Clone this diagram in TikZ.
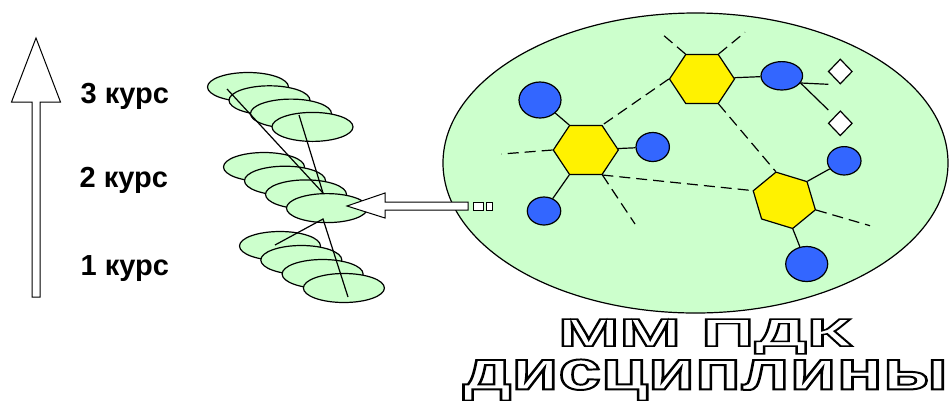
\documentclass[tikz,border=0pt]{standalone}
\usepackage{fontspec}
\setmainfont{Liberation Sans}
\usepackage{graphicx}
\usetikzlibrary{shapes.geometric}

\definecolor{mintfill}{HTML}{CCFFCC}
\definecolor{atomblue}{HTML}{3366FF}

\newcommand{\hollowtext}[1]{\special{pdf:literal direct 1 Tr 0.35 w 0 G}#1\special{pdf:literal direct 0 Tr}}

\begin{document}
\begin{tikzpicture}[
    x=1pt, y=-1pt,
    line width=1.2pt,
    kurs/.style={font=\fontsize{29}{32}\selectfont\bfseries, anchor=base west, inner sep=0pt},
    disc/.style={ellipse, draw, fill=mintfill, minimum width=81, minimum height=29, inner sep=0pt},
    atom/.style={ellipse, draw, fill=atomblue, inner sep=0pt},
    hexa/.style={regular polygon, regular polygon sides=6, draw, fill=yellow, minimum size=65, inner sep=0pt, yscale=0.87, transform shape},
    gem/.style={diamond, draw, fill=white, minimum width=24, minimum height=25, inner sep=0pt},
    bond/.style={dash pattern=on 11pt off 6pt},
    outl/.style={inner sep=0pt, font=\bfseries}
  ]
  \useasboundingbox (0,0) rectangle (952,400);

  % course axis
  \draw[line width=1pt, fill=white] (32,297) -- (32,102) -- (11.5,102) -- (36,38) -- (60.5,102) -- (40,102) -- (40,297) -- cycle;
  \node[kurs] (k3) at (80,103.3) {3 курс};
  \node[kurs] (k2) at (79,187) {2 курс};
  \node[kurs] (k1) at (80,275) {1 курс};

  % stacks of courses
  \foreach \i in {0,...,3}
    \node[disc] (t\i) at ({248+21.5*\i},{87+13.3*\i}) {};
  \foreach \i in {0,...,3}
    \node[disc] (m\i) at ({264+21*\i},{167+13.7*\i}) {};
  \foreach \i in {0,...,3}
    \node[disc] (b\i) at ({280+21.3*\i},{246+14*\i}) {};
  \coordinate (hubA) at (323,193);
  \coordinate (hubB) at (323,219);
  \coordinate (topA) at (227,89);
  \coordinate (topB) at (299,115);
  \coordinate (lowA) at (275,245);
  \coordinate (lowB) at (348,297);
  \draw (topA) -- (hubA);
  \draw (topB) -- (hubA);
  \draw (lowA) -- (hubB) -- (lowB);

  % field of disciplines
  \node[ellipse, draw, fill=mintfill, minimum width=505, minimum height=300, inner sep=0pt] (field) at (695.5,163) {};
  \node[hexa] (h1) at (585.8,150) {};
  \node[hexa] (h2) at (702,79) {};
  \node[rotate=-17, hexa] (h3) at (784.3,200.3) {};
  \node[atom, minimum width=42, minimum height=36] (c1) at (540,100) {};
  \node[atom, minimum width=33.4, minimum height=29] (c2) at (652.7,147) {};
  \node[atom, minimum width=33.4, minimum height=28] (c3) at (544,211) {};
  \node[atom, minimum width=41.6, minimum height=28.4] (c4) at (781.8,75.8) {};
  \node[atom, minimum width=33.6, minimum height=28.4] (c5) at (844.2,160.8) {};
  \node[atom, minimum width=42, minimum height=35] (c6) at (806.7,264) {};
  \node[gem] (d1) at (840.3,71.5) {};
  \node[gem] (d2) at (840.3,123.3) {};
  \coordinate (e1) at (501.7,154);
  \coordinate (e2) at (635,224);
  \coordinate (e3) at (660,32.3);
  \coordinate (e4) at (745,32.3);
  \coordinate (e5) at (870,225.7);
  \coordinate (g1) at (828.3,84.3);
  \coordinate (g2) at (828.3,110);

  \draw (c1) -- (h1.120);
  \draw (h1) -- (c2);
  \draw (h1.240) -- (c3);
  \draw (h2) -- (c4);
  \draw (c4.-21) -- (g1);
  \draw (c4.-21) -- (g2);
  \draw (h3.60) -- (c5);
  \draw (h3.300) -- (c6);
  \draw[bond] (h1.180) -- (e1);
  \draw[bond] (h1.300) -- (e2);
  \draw[bond] (h1.300) -- (h3.180);
  \draw[bond] (h2.180) -- (h1.60);
  \draw[bond] (h2.120) -- (e3);
  \draw[bond] (h2.60) -- (e4);
  \draw[bond] (h2.300) -- (h3.120);
  \draw[bond] (h3.0) -- (e5);

  % transfer arrow
  \draw[line width=1pt, fill=white] (347,206) -- (385,193) -- (385,202) -- (468,202) -- (468,210) -- (385,210) -- (385,218) -- cycle;
  \draw[line width=1pt, fill=white] (473,202) rectangle (483,210);
  \draw[line width=1pt, fill=white] (486,202) rectangle (492,210);

  % caption
  \node[outl] (mm) at (705,336.5) {\resizebox{294pt}{27pt}{\hollowtext{ММ ПДК}}};
  \node[outl] (dsc) at (705.5,380) {\resizebox{485pt}{30pt}{\hollowtext{дисциплины}}};
\end{tikzpicture}
\end{document}
